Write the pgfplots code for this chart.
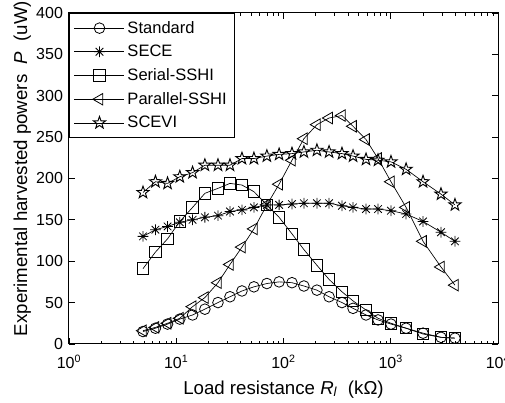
\documentclass[border=0pt]{standalone}
\usepackage{fontspec}
\setmainfont{Liberation Sans}
\usepackage{pgfplots}
\usepackage{pgfplotstable}
\pgfplotsset{compat=1.18}

% outlined five-point star, like matlab's 'p' marker
\pgfdeclareplotmark{pentagram}{%
  \pgfpathmoveto{\pgfpointpolar{90}{\pgfplotmarksize}}%
  \pgfpathlineto{\pgfpointpolar{126}{0.4\pgfplotmarksize}}%
  \pgfpathlineto{\pgfpointpolar{162}{\pgfplotmarksize}}%
  \pgfpathlineto{\pgfpointpolar{198}{0.4\pgfplotmarksize}}%
  \pgfpathlineto{\pgfpointpolar{234}{\pgfplotmarksize}}%
  \pgfpathlineto{\pgfpointpolar{270}{0.4\pgfplotmarksize}}%
  \pgfpathlineto{\pgfpointpolar{306}{\pgfplotmarksize}}%
  \pgfpathlineto{\pgfpointpolar{342}{0.4\pgfplotmarksize}}%
  \pgfpathlineto{\pgfpointpolar{18}{\pgfplotmarksize}}%
  \pgfpathlineto{\pgfpointpolar{54}{0.4\pgfplotmarksize}}%
  \pgfpathclose
  \pgfusepathqstroke
}
% eight-spoke asterisk ('*' in matlab)
\pgfdeclareplotmark{mstar}{%
  \pgfpathmoveto{\pgfqpoint{0pt}{\pgfplotmarksize}}%
  \pgfpathlineto{\pgfqpoint{0pt}{-\pgfplotmarksize}}%
  \pgfpathmoveto{\pgfqpoint{\pgfplotmarksize}{0pt}}%
  \pgfpathlineto{\pgfqpoint{-\pgfplotmarksize}{0pt}}%
  \pgfpathmoveto{\pgfpointpolar{45}{\pgfplotmarksize}}%
  \pgfpathlineto{\pgfpointpolar{225}{\pgfplotmarksize}}%
  \pgfpathmoveto{\pgfpointpolar{135}{\pgfplotmarksize}}%
  \pgfpathlineto{\pgfpointpolar{315}{\pgfplotmarksize}}%
  \pgfusepathqstroke
}

% R in kOhm, powers in uW
\pgfplotstableread{
R     std  sece ser  par  scevi
4.9   15   130  91   16   183
6.4   19   138  111  20   196
8.3   24   142  127  25   194
10.8  30   147  148  31   202
14.2  35   150  165  45   207
18.5  42   153  182  56   216
24.5  50   155  188  74   216
31.7  57   160  194  96   216
41    64   162  192  117  224
53    69   165  184  139  224
70    73   168  168  168  227
91    75   168  153  193  229
120   74   169  133  222  230
155   70   170  114  248  232
205   65   170  95   265  234
266   57   170  78   273  232
351   50   167  63   276  230
445   43   165  52   263  227
588   35   163  41   247  223
761   29   163  31   224  222
1005  24   161  25   196  220
1390  19   157  19   165  211
2000  13   148  12   124  196
2940  8    135  8    93   181
3970  7    124  7    71   168
}\power

\begin{document}
\begin{tikzpicture}
\begin{axis}[
  scale only axis,
  width=321.75pt, height=248.25pt,
  xmode=log,
  xmin=1, xmax=10000,
  ymin=0, ymax=400,
  xtick={1,10,100,1000,10000},
  xticklabels={10\textsuperscript{0},10\textsuperscript{1},10\textsuperscript{2},10\textsuperscript{3},10\textsuperscript{4}},
  ytick={0,50,...,400},
  /pgf/number format/assume math mode=true,
  ticklabel style={font=\fontsize{12}{14}\selectfont},
  yticklabel style={xshift=-1pt},
  xticklabel style={yshift=-5pt},
  major tick length=4.5pt,
  minor tick length=2.5pt,
  every tick/.style={black, line width=0.5pt},
  axis line style={line width=0.75pt},
  xlabel={Load resistance \textit{R}\textsubscript{\textit{l}}\ \ (kΩ)},
  ylabel={Experimental harvested powers \ \textit{P}\ \ (uW)},
  label style={font=\fontsize{14}{16}\selectfont},
  xlabel style={yshift=-2pt},
  ylabel style={at={(ticklabel cs:0.53)}, yshift=-3pt},
  legend cell align=left,
  legend style={at={(0,1)}, anchor=north west, draw=black, line width=0.75pt,
    font=\fontsize{12.4}{14}\selectfont, row sep=3.4pt, inner xsep=3.5pt, inner ysep=3.8pt},
  legend image code/.code={\draw[mark repeat=2,mark phase=2,#1]
    plot coordinates {(0pt,0pt)(18.75pt,0pt)(37.5pt,0pt)};},
]
\addplot[black, line width=0.5pt, mark=o, mark size=4pt, mark options={line width=0.6pt}] table[x=R, y=std] {\power};
\addplot[black, line width=0.5pt, mark=mstar, mark size=4pt, mark options={line width=0.6pt}] table[x=R, y=sece] {\power};
\addplot[black, line width=0.5pt, mark=square, mark size=4.3pt, mark options={line width=0.7pt}] table[x=R, y=ser] {\power};
\addplot[black, line width=0.5pt, mark=triangle, mark size=5pt, mark options={rotate=90, line width=0.6pt}] table[x=R, y=par] {\power};
\addplot[black, line width=0.5pt, mark=pentagram, mark size=4.8pt, mark options={line width=0.7pt}] table[x=R, y=scevi] {\power};
\legend{Standard, SECE, Serial-SSHI, Parallel-SSHI, SCEVI}
\coordinate (bbsw) at (rel axis cs:-0.1608,-0.178);
\coordinate (bbne) at (rel axis cs:1.0163,1.039);
\end{axis}
\pgfresetboundingbox
\useasboundingbox (bbsw) rectangle (bbne);
\end{tikzpicture}
\end{document}
